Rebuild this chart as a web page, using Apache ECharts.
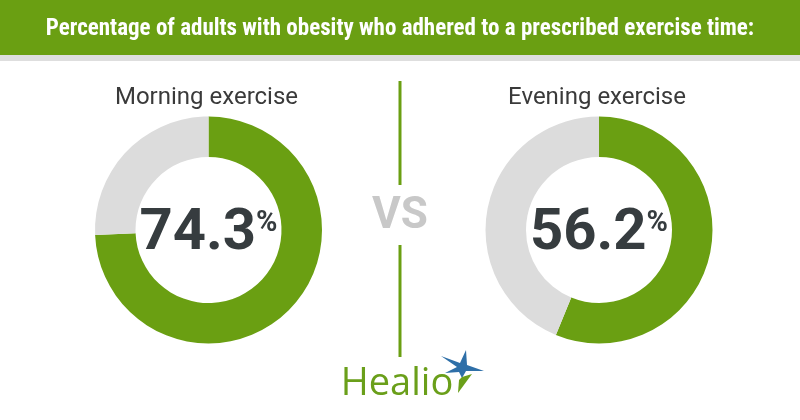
<!DOCTYPE html>
<html><head><meta charset="utf-8">
<script src="https://cdn.jsdelivr.net/npm/echarts@6/dist/echarts.min.js"></script>
<style>html,body{margin:0;padding:0;background:#fff}#c{width:800px;height:420px}</style>
</head><body><div id="c"></div>
<script>
const headerText = "Percentage of adults with obesity who adhered to a prescribed exercise time:";
const categories = ["Morning exercise", "Evening exercise"];
const adherence = [74.3, 56.2];
const dividerText = "VS";
const brandText = "Healio";

const GREEN = '#6a9f12', GRAY = '#dcdcdc', DARK = '#363c3f';
const centers = [[208.5, 230], [599, 230]];

const chart = echarts.init(document.getElementById('c'), null, {renderer: 'canvas'});
const series = categories.map((name, i) => ({
  type: 'pie',
  radius: [73, 113.5],
  center: centers[i],
  startAngle: 90,
  clockwise: true,
  silent: true,
  animation: false,
  label: {show: false},
  labelLine: {show: false},
  emphasis: {disabled: true},
  data: [
    {value: adherence[i], name: name, itemStyle: {color: GREEN},
     label: {show: true, position: 'center', offset: [0, 4],
       formatter: '{a|' + adherence[i].toFixed(1) + '}{b|%}',
       rich: {
         a: {fontFamily: 'Roboto', fontWeight: 'bold', fontSize: 58, color: DARK, lineHeight: 60},
         b: {fontFamily: 'Roboto', fontWeight: 'bold', fontSize: 29, color: DARK, padding: [0, 0, 21, 0]}
       }}},
    {value: +(100 - adherence[i]).toFixed(1), name: 'rest', itemStyle: {color: GRAY}}
  ]
}));

const titles = categories.map((name, i) => ({
  text: name, left: centers[i][0] - 2, top: 86, textAlign: 'center', padding: 0,
  textStyle: {fontFamily: 'Roboto', fontWeight: 'normal', fontSize: 24, color: '#3a3a3a'}
}));

chart.setOption({
  backgroundColor: '#ffffff',
  title: titles,
  series: series,
  graphic: [
    {type: 'rect', shape: {x: 0, y: 0, width: 800, height: 55}, style: {fill: GREEN}, silent: true},
    {type: 'rect', shape: {x: 0, y: 55, width: 800, height: 6}, style: {fill: '#dedede'}, silent: true},
    {type: 'text', x: 400, y: 29, style: {text: headerText, fill: '#ffffff', font: 'bold 23px "Liberation Sans Narrow", "Roboto Condensed", sans-serif', textAlign: 'center', textVerticalAlign: 'middle'}},
    {type: 'rect', shape: {x: 398.5, y: 81, width: 3, height: 104}, style: {fill: GREEN}},
    {type: 'rect', shape: {x: 398.5, y: 245, width: 3, height: 112}, style: {fill: GREEN}},
    {type: 'text', x: 400, y: 217, style: {text: dividerText, fill: '#c8c8c8', font: 'bold 44px Roboto', textAlign: 'center', textVerticalAlign: 'middle'}},
    {type: 'text', x: 397, y: 384, style: {text: brandText, fill: '#6a9f1a', font: '38px "Open Sans"', textAlign: 'center', textVerticalAlign: 'middle'}},
    {type: 'polygon', shape: {points: [[441,356],[460,363],[466,350],[467,365],[484,371],[466,371],[462,378],[459,372],[445,373],[457,367]]}, style: {fill: '#2e6fa8'}},
    {type: 'polygon', shape: {points: [[462,377],[472,374],[458,393],[459,380]]}, style: {fill: '#6a9f1a'}}
  ]
});
</script></body></html>
